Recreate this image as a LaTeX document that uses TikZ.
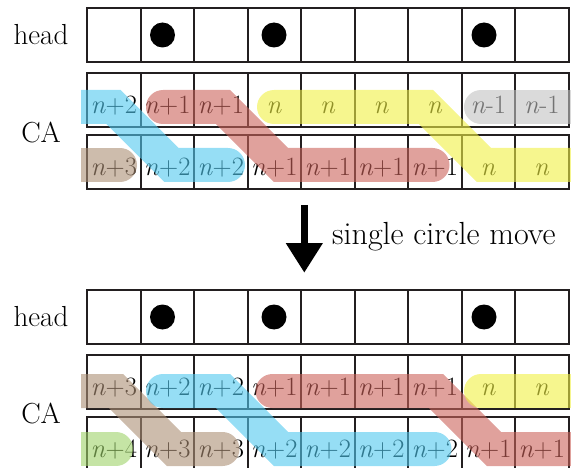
\documentclass[tikz,border=0pt]{standalone}
\usetikzlibrary{arrows.meta}

\definecolor{gridline}{RGB}{35,31,32}
\definecolor{bandblue}{RGB}{80,200,238}
\definecolor{bandred}{RGB}{203,98,90}
\definecolor{bandyellow}{RGB}{240,240,67}
\definecolor{bandgray}{RGB}{193,193,193}
\definecolor{bandbrown}{RGB}{172,143,117}
\definecolor{bandgreen}{RGB}{158,210,105}

\newcommand{\nv}{\textit{n}}

\tikzset{
  cell/.style={draw=gridline, line width=2pt, minimum width=53.5pt,
    minimum height=54pt, inner sep=0pt, text height=27pt, text depth=0pt,
    font=\fontsize{26.5}{28}\selectfont},
  token/.style={circle, fill=black, minimum size=25pt, inner sep=0pt},
  rowlabel/.style={font=\fontsize{29}{30}\selectfont, anchor=base, inner sep=0pt},
  band/.style={line width=34pt, line cap=round, line join=miter, opacity=0.6},
}

\begin{document}
\begin{tikzpicture}[x=1pt, y=-1pt]
\useasboundingbox (0,0) rectangle (571,468);

% ---------- before the move ----------
\node[rowlabel] (headA) at (41,45) {head};
\node[rowlabel] (caA) at (41,142.7) {CA};
\foreach \i in {0,...,8}
  \node[cell] (ha\i) at ({113.75+53.5*\i},35) {};
\foreach \lab [count=\i from 0] in
  {{\nv+2},{\nv+1},{\nv+1},\nv,\nv,\nv,\nv,{\nv-1},{\nv-1}}
  \node[cell] (pa\i) at ({113.75+53.5*\i},100) {\lab};
\foreach \lab [count=\i from 0] in
  {{\nv+3},{\nv+2},{\nv+2},{\nv+1},{\nv+1},{\nv+1},{\nv+1},\nv,\nv}
  \node[cell] (qa\i) at ({113.75+53.5*\i},162) {\lab};
\node[token] (ta1) at (162.5,35) {};
\node[token] (ta2) at (274,35) {};
\node[token] (ta3) at (484,35) {};

% ---------- after the move ----------
\node[rowlabel] (headB) at (41,326) {head};
\node[rowlabel] (caB) at (41,423.3) {CA};
\foreach \i in {0,...,8}
  \node[cell] (hb\i) at ({113.75+53.5*\i},316.5) {};
\foreach \lab [count=\i from 0] in
  {{\nv+3},{\nv+2},{\nv+2},{\nv+1},{\nv+1},{\nv+1},{\nv+1},\nv,\nv}
  \node[cell] (pb\i) at ({113.75+53.5*\i},382) {\lab};
\foreach \lab [count=\i from 0] in
  {{\nv+4},{\nv+3},{\nv+3},{\nv+2},{\nv+2},{\nv+2},{\nv+2},{\nv+1},{\nv+1}}
  \node[cell] (qb\i) at ({113.75+53.5*\i},444) {\lab};
\node[token] (tb1) at (162.5,317) {};
\node[token] (tb2) at (274,317) {};
\node[token] (tb3) at (484,317) {};

% ---------- highlighted runs ----------
\begin{scope}
  \clip (81,0) rectangle (571,468);
  % upper pair of rows
  \draw[band, bandblue]   (60,107) -- (113.5,107) -- (171.5,165) -- (228,165);
  \draw[band, bandbrown]  (60,165) -- (120,165);
  \draw[band, bandred]    (163,107) -- (223,107) -- (281,165) -- (432.5,165);
  \draw[band, bandyellow] (274,107) -- (426,107) -- (484,165) -- (620,165);
  \draw[band, bandgray]   (481,107) -- (620,107);
  % lower pair of rows
  \draw[band, bandbrown]  (60,391) -- (116,391) -- (174,449) -- (222.5,449);
  \draw[band, bandgreen]  (60,449) -- (116,449);
  \draw[band, bandblue]   (163,391) -- (223,391) -- (281,449) -- (434.5,449);
  \draw[band, bandred]    (272.5,391) -- (436,391) -- (494,449) -- (620,449);
  \draw[band, bandyellow] (481,391) -- (620,391);
\end{scope}

% ---------- transition arrow ----------
\coordinate (arrtop) at (304.3,205);
\coordinate (arrtip) at (304.3,272.7);
\draw[line width=7pt, -{Triangle[width=35pt,length=29.5pt]}] (arrtop) -- (arrtip);
\node[rowlabel, anchor=base west, font=\fontsize{32}{33}\selectfont]
  (movelabel) at (332,245) {single circle move};
\end{tikzpicture}
\end{document}
